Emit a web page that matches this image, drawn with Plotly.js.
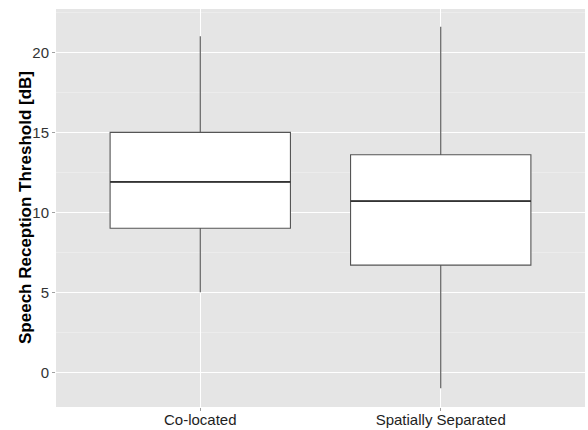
<!DOCTYPE html>
<html>
<head>
<meta charset="utf-8">
<script src="https://cdn.plot.ly/plotly-3.0.1.min.js"></script>
<style>
  html, body { margin: 0; padding: 0; background: #ffffff; }
  #chart { width: 588px; height: 430px; }
</style>
</head>
<body>
<div id="chart"></div>
<script>
// Speech reception threshold per listening condition (box summary statistics, dB)
const groups = ['Co-located', 'Spatially Separated'];
const lowerFence = [5.0, -1.0];
const q1 = [9.0, 6.7];
const median = [11.9, 10.7];
const q3 = [15.0, 13.6];
const upperFence = [21.0, 21.6];

const yTicks = [0, 5, 10, 15, 20];
const yTitle = 'Speech Reception Threshold [dB]';
const boxWidth = 0.75;

const trace = {
  type: 'box',
  x: groups,
  q1: q1,
  median: median,
  q3: q3,
  lowerfence: lowerFence,
  upperfence: upperFence,
  boxpoints: false,
  width: boxWidth,
  whiskerwidth: 0,
  fillcolor: '#ffffff',
  line: { color: '#555555', width: 1.1 },
  hoverinfo: 'skip',
  showlegend: false
};

// heavier median bar, as ggplot draws it
const medianShapes = median.map((m, i) => ({
  type: 'line',
  xref: 'x', yref: 'y',
  x0: i - boxWidth / 2, x1: i + boxWidth / 2,
  y0: m, y1: m,
  line: { color: '#333333', width: 1.8 }
}));

const layout = {
  width: 588,
  height: 430,
  margin: { l: 56, r: 3, t: 9, b: 23 },
  paper_bgcolor: '#ffffff',
  plot_bgcolor: '#e5e5e5',
  font: { family: 'Liberation Sans, Arial, sans-serif', size: 15, color: '#333333' },
  showlegend: false,
  shapes: medianShapes,
  annotations: [{
    text: yTitle,
    xref: 'paper', yref: 'paper',
    x: -0.0586, y: 0.5,
    xanchor: 'center', yanchor: 'middle',
    textangle: -90,
    showarrow: false,
    font: { size: 17, color: '#000000', family: 'Liberation Sans, Arial, sans-serif', weight: 'bold' }
  }],
  xaxis: {
    type: 'category',
    range: [-0.6, 1.6],
    showgrid: true,
    gridcolor: '#ffffff',
    gridwidth: 1,
    zeroline: false,
    showline: false,
    ticks: 'outside',
    ticklen: 3,
    tickcolor: '#a0a0a0',
    ticklabelstandoff: -4,
    tickfont: { size: 15, color: '#1e1e1e' },
    fixedrange: true
  },
  yaxis: {
    range: [-2.17, 22.71],
    tickvals: yTicks,
    ticktext: yTicks.map(String),
    showgrid: true,
    gridcolor: '#ffffff',
    gridwidth: 1,
    minor: { dtick: 2.5, tick0: 0, showgrid: true, gridcolor: '#f0f0f0', gridwidth: 0.6 },
    zeroline: false,
    showline: false,
    ticks: 'outside',
    ticklen: 3,
    tickcolor: '#a0a0a0',
    tickfont: { size: 15, color: '#333333' },
    fixedrange: true
  }
};

Plotly.newPlot('chart', [trace], layout, { displayModeBar: false, staticPlot: true });
</script>
</body>
</html>
